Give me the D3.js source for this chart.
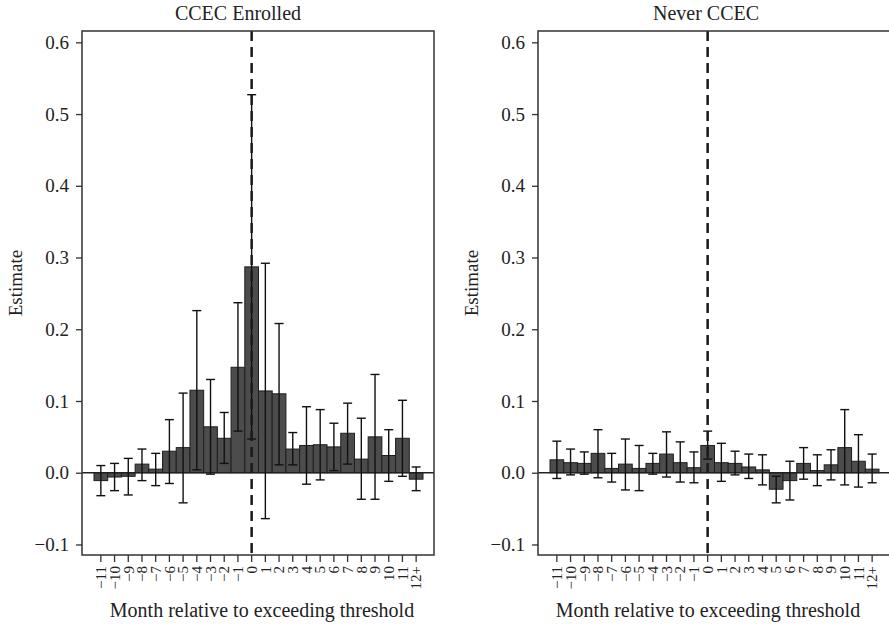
<!DOCTYPE html>
<html>
<head>
<meta charset="utf-8">
<title>Event study</title>
<script src="https://cdn.jsdelivr.net/npm/d3@7"></script>
<style>
  html, body { margin: 0; padding: 0; background: #fff; overflow: hidden; }
  svg { display: block; font-family: "Liberation Serif", "Times New Roman", serif; }
</style>
</head>
<body>
<script>
// months relative to the threshold
var months = ["\u221211","\u221210","\u22129","\u22128","\u22127","\u22126","\u22125","\u22124","\u22123","\u22122","\u22121",
  "0","1","2","3","4","5","6","7","8","9","10","11","12+"];

var enrolledEst = [-0.011,-0.006,-0.005,0.012,0.005,0.030,0.035,0.115,0.064,0.048,0.147,
  0.287,0.114,0.110,0.033,0.038,0.039,0.036,0.055,0.019,0.050,0.024,0.048,-0.009];
var enrolledLo = [-0.032,-0.025,-0.031,-0.011,-0.018,-0.015,-0.042,0.004,-0.002,0.013,0.058,
  0.047,-0.064,0.011,0.011,-0.016,-0.010,0.003,0.012,-0.037,-0.037,-0.012,-0.005,-0.025];
var enrolledHi = [0.010,0.013,0.020,0.033,0.027,0.074,0.111,0.226,0.130,0.084,0.237,
  0.527,0.292,0.208,0.056,0.092,0.088,0.069,0.097,0.076,0.137,0.060,0.101,0.008];

var neverEst = [0.018,0.014,0.013,0.027,0.006,0.012,0.006,0.013,0.026,0.014,0.007,
  0.038,0.014,0.013,0.008,0.004,-0.023,-0.011,0.013,0.003,0.011,0.035,0.016,0.005];
var neverLo = [-0.008,-0.003,-0.002,-0.007,-0.013,-0.024,-0.025,-0.002,-0.006,-0.013,-0.014,
  0.019,-0.012,-0.003,-0.008,-0.017,-0.042,-0.038,-0.009,-0.018,-0.010,-0.017,-0.020,-0.014];
var neverHi = [0.044,0.033,0.029,0.060,0.027,0.047,0.038,0.027,0.057,0.043,0.029,
  0.058,0.041,0.030,0.026,0.025,-0.005,0.016,0.035,0.025,0.032,0.088,0.053,0.026];

var yTicks = [-0.1, 0.0, 0.1, 0.2, 0.3, 0.4, 0.5, 0.6];

var w = 889, h = 624;
var plotTop = 31, plotBottom = 555, frameW = 352;
var serif = "'Liberation Serif', 'Times New Roman', serif";

var svg = d3.select("body").append("svg")
  .attr("width", w)
  .attr("height", h);

var y = d3.scaleLinear()
  .domain([-0.1147, 0.6158])
  .range([plotBottom, plotTop]);

function fmt(v) {
  return d3.format(".1f")(v).replace("-", "\u2212");
}

function drawPanel(left, title, titleX, labelX, est, lo, hi) {
  var right = left + frameW;
  var data = months.map(function (m, i) {
    return { m: m, v: est[i], lo: lo[i], hi: hi[i] };
  });

  var x = d3.scaleBand()
    .domain(months)
    .range([left + 12, right - 11])
    .padding(0);

  var g = svg.append("g");

  // bars
  g.selectAll("rect.bar")
    .data(data)
    .enter()
    .append("rect")
    .attr("class", "bar")
    .attr("x", function (d) { return x(d.m); })
    .attr("y", function (d) { return y(Math.max(0, d.v)); })
    .attr("width", x.bandwidth())
    .attr("height", function (d) { return Math.abs(y(d.v) - y(0)); })
    .attr("fill", "#4c4c4c")
    .attr("stroke", "#1e1e1e")
    .attr("stroke-width", 1);

  // zero line
  g.append("line")
    .attr("x1", left).attr("x2", right)
    .attr("y1", y(0)).attr("y2", y(0))
    .attr("stroke", "#222")
    .attr("stroke-width", 1.5);

  // error bars
  var cx = function (d) { return x(d.m) + x.bandwidth() / 2; };
  var eb = g.selectAll("g.err")
    .data(data)
    .enter()
    .append("g")
    .attr("class", "err")
    .attr("stroke", "#111")
    .attr("stroke-width", 1.4);
  eb.append("line")
    .attr("x1", cx).attr("x2", cx)
    .attr("y1", function (d) { return y(d.lo); })
    .attr("y2", function (d) { return y(d.hi); });
  eb.append("line")
    .attr("x1", function (d) { return cx(d) - 4.5; })
    .attr("x2", function (d) { return cx(d) + 4.5; })
    .attr("y1", function (d) { return y(d.hi); })
    .attr("y2", function (d) { return y(d.hi); });
  eb.append("line")
    .attr("x1", function (d) { return cx(d) - 4.5; })
    .attr("x2", function (d) { return cx(d) + 4.5; })
    .attr("y1", function (d) { return y(d.lo); })
    .attr("y2", function (d) { return y(d.lo); });

  // dashed line at month 0
  var x0 = x("0") + x.bandwidth() / 2;
  g.append("line")
    .attr("x1", x0).attr("x2", x0)
    .attr("y1", plotTop).attr("y2", plotBottom)
    .attr("stroke", "#1a1a1a")
    .attr("stroke-width", 2.5)
    .attr("stroke-dasharray", "10,6");

  // frame
  g.append("rect")
    .attr("x", left).attr("y", plotTop)
    .attr("width", frameW).attr("height", plotBottom - plotTop)
    .attr("fill", "none")
    .attr("stroke", "#333")
    .attr("stroke-width", 1.5);

  // y axis
  var axisY = d3.axisLeft(y)
    .tickValues(yTicks)
    .tickSize(6)
    .tickPadding(7)
    .tickFormat(fmt);
  var ga = svg.append("g")
    .attr("transform", "translate(" + left + ",0)")
    .call(axisY);
  ga.attr("font-family", serif);
  ga.select(".domain").remove();
  ga.selectAll("line").attr("stroke", "#333").attr("stroke-width", 1.3);
  ga.selectAll("text")
    .attr("font-size", 19)
    .attr("fill", "#222");

  // x axis
  var axisX = d3.axisBottom(x).tickSize(7).tickPadding(4);
  var gx = svg.append("g")
    .attr("transform", "translate(0," + plotBottom + ")")
    .call(axisX);
  gx.attr("font-family", serif);
  gx.select(".domain").remove();
  gx.selectAll("line").attr("stroke", "#333").attr("stroke-width", 1.3);
  gx.selectAll("text")
    .attr("font-size", 15)
    .attr("fill", "#222")
    .attr("transform", "rotate(-90)")
    .attr("x", -11)
    .attr("y", 0)
    .attr("dy", "0.35em")
    .attr("text-anchor", "end");

  // title
  svg.append("text")
    .attr("x", titleX)
    .attr("y", 20)
    .attr("text-anchor", "middle")
    .attr("font-size", 20)
    .attr("fill", "#222")
    .text(title);

  // x label
  svg.append("text")
    .attr("x", labelX)
    .attr("y", 617)
    .attr("text-anchor", "middle")
    .attr("font-size", 20)
    .attr("fill", "#222")
    .text("Month relative to exceeding threshold");

  // y label
  svg.append("text")
    .attr("transform", "translate(" + (left - 60) + ",283) rotate(-90)")
    .attr("text-anchor", "middle")
    .attr("font-size", 19)
    .attr("fill", "#222")
    .text("Estimate");
}

drawPanel(82, "CCEC Enrolled", 238, 262, enrolledEst, enrolledLo, enrolledHi);
drawPanel(538, "Never CCEC", 706, 708, neverEst, neverLo, neverHi);
</script>
</body>
</html>
